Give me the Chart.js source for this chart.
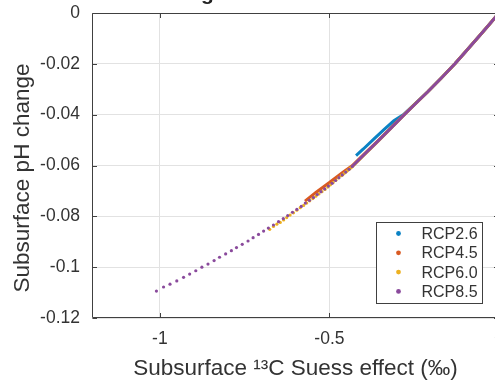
<!DOCTYPE html>
<html>
<head>
<meta charset="utf-8">
<script src="https://cdn.jsdelivr.net/npm/chart.js@4.4.1/dist/chart.umd.min.js"></script>
<style>
  html, body { margin: 0; padding: 0; background: #fff; overflow: hidden; }
  #wrap { width: 505px; height: 382px; }
</style>
</head>
<body>
<div id="wrap"><canvas id="chart" width="505" height="382"></canvas></div>
<script>
// axis ticks
const xTicks = [-1, -0.5, 0];
const xTickLabels = ['-1', '-0.5', '0'];
const yTicks = [0, -0.02, -0.04, -0.06, -0.08, -0.1, -0.12];
const yTickLabels = ['0', '-0.02', '-0.04', '-0.06', '-0.08', '-0.1', '-0.12'];

const scenarios = ['RCP2.6', 'RCP4.5', 'RCP6.0', 'RCP8.5'];
const colors = ['#0a82c4', '#d95a22', '#edb120', '#8a4a9c'];

// RCP2.6 - dense yearly values, drawn as a continuous trace
const rcp26X = [-0.4215, -0.40, -0.37, -0.34, -0.31, -0.28, -0.25, -0.21, -0.17, -0.13, -0.10, -0.06, -0.03, 0];
const rcp26Y = [-0.0561, -0.0535, -0.0497, -0.0460, -0.0424, -0.0398, -0.0360, -0.0310, -0.0256, -0.0200, -0.0154, -0.0093, -0.0047, 0];

// RCP4.5
const rcp45X = [-0.572, -0.54, -0.50, -0.46, -0.433, -0.40, -0.36, -0.32, -0.28, -0.25, -0.21, -0.17, -0.13, -0.10, -0.06, -0.03, 0];
const rcp45Y = [-0.0740, -0.0706, -0.0667, -0.0626, -0.0601, -0.0558, -0.0507, -0.0454, -0.0400, -0.0361, -0.0310, -0.0256, -0.0200, -0.0154, -0.0093, -0.0047, 0];

// RCP6.0 - sparse years as dots, then the dense part
const rcp60DotX = [-0.676, -0.665, -0.655, -0.645, -0.635, -0.626, -0.616, -0.606, -0.596, -0.586, -0.576, -0.567, -0.558, -0.549, -0.540, -0.531, -0.522, -0.513, -0.505, -0.497, -0.489, -0.481, -0.473, -0.465];
const rcp60DotY = [-0.0851, -0.0840, -0.0831, -0.0824, -0.0814, -0.0805, -0.0795, -0.0786, -0.0776, -0.0766, -0.0757, -0.0748, -0.0739, -0.0730, -0.0721, -0.0712, -0.0703, -0.0694, -0.0685, -0.0676, -0.0667, -0.0658, -0.0649, -0.0640];
const rcp60X = [-0.465, -0.433, -0.40, -0.36, -0.32, -0.28, -0.25, -0.21, -0.17, -0.13, -0.10, -0.06, -0.03, 0];
const rcp60Y = [-0.0641, -0.0605, -0.0561, -0.0509, -0.0455, -0.0401, -0.0362, -0.0310, -0.0256, -0.0200, -0.0154, -0.0093, -0.0047, 0];

// RCP8.5
const rcp85DotX = [-1.010, -0.989, -0.970, -0.950, -0.930, -0.912, -0.894, -0.876, -0.858, -0.840, -0.824, -0.806, -0.789, -0.774, -0.757, -0.740, -0.725, -0.709, -0.694, -0.680, -0.665, -0.650, -0.636, -0.623, -0.609, -0.596, -0.583, -0.571, -0.559, -0.547, -0.536, -0.525, -0.514, -0.503, -0.492, -0.482, -0.472, -0.462, -0.452, -0.442, -0.433];
const rcp85DotY = [-0.1094, -0.1078, -0.1067, -0.1054, -0.1040, -0.1027, -0.1014, -0.1000, -0.0988, -0.0974, -0.0961, -0.0948, -0.0935, -0.0923, -0.0910, -0.0897, -0.0884, -0.0871, -0.0858, -0.0846, -0.0834, -0.0821, -0.0809, -0.0797, -0.0784, -0.0773, -0.0761, -0.0748, -0.0737, -0.0726, -0.0714, -0.0703, -0.0692, -0.0681, -0.0670, -0.0659, -0.0648, -0.0637, -0.0626, -0.0615, -0.0604];
const rcp85X = [-0.433, -0.40, -0.36, -0.32, -0.28, -0.25, -0.21, -0.17, -0.13, -0.10, -0.06, -0.03, 0];
const rcp85Y = [-0.0604, -0.0560, -0.0508, -0.0455, -0.0401, -0.0362, -0.0310, -0.0256, -0.0200, -0.0154, -0.0093, -0.0047, 0];

const FONT = "'Liberation Sans', Arial, Helvetica, sans-serif";
const TEXT = '#333333';

function pts(xs, ys) {
  return xs.map((v, i) => ({ x: v, y: ys[i] }));
}

function dots(idx, xs, ys, order) {
  return {
    label: scenarios[idx],
    data: pts(xs, ys),
    showLine: false,
    pointRadius: 1.6,
    pointBorderWidth: 0,
    pointBackgroundColor: colors[idx],
    order: order
  };
}

function trace(idx, xs, ys, order) {
  return {
    label: scenarios[idx],
    data: pts(xs, ys),
    showLine: true,
    borderColor: colors[idx],
    borderWidth: 3,
    pointRadius: 0,
    order: order
  };
}

// lower order is painted last, so RCP8.5 ends up on top
const datasets = [
  trace(0, rcp26X, rcp26Y, 7),
  trace(1, rcp45X, rcp45Y, 6),
  trace(2, rcp60X, rcp60Y, 5),
  dots(2, rcp60DotX, rcp60DotY, 4),
  trace(3, rcp85X, rcp85Y, 1),
  dots(3, rcp85DotX, rcp85DotY, 0)
];

// no extra room for the end tick labels, the axes box is fixed
function noLabelPadding(s) {
  s.paddingLeft = 0;
  s.paddingRight = 0;
  s.paddingTop = 0;
  s.paddingBottom = 0;
}

// box around the axes with inward tick marks
const axesBox = {
  id: 'axesBox',
  afterDatasetsDraw(chart) {
    const { ctx, chartArea: a, scales } = chart;
    const L = Math.round(a.left) + 0.5, R = Math.round(a.right) - 0.5;
    const T = Math.round(a.top) + 0.5, B = Math.round(a.bottom) - 0.5;
    ctx.save();
    ctx.strokeStyle = '#404040';
    ctx.lineWidth = 1;
    ctx.beginPath();
    ctx.rect(L, T, R - L, B - T);
    const tl = 4.5;
    xTicks.forEach(v => {
      const px = Math.round(scales.x.getPixelForValue(v)) + 0.5;
      ctx.moveTo(px, B); ctx.lineTo(px, B - tl);
      ctx.moveTo(px, T); ctx.lineTo(px, T + tl);
    });
    yTicks.forEach(v => {
      const py = Math.round(scales.y.getPixelForValue(v)) + 0.5;
      ctx.moveTo(L, py); ctx.lineTo(L + tl, py);
      ctx.moveTo(R, py); ctx.lineTo(R - tl, py);
    });
    ctx.stroke();
    ctx.restore();
  }
};

// boxed legend in the lower right of the axes
const boxLegend = {
  id: 'boxLegend',
  afterDraw(chart) {
    const { ctx, chartArea: a } = chart;
    const w = 106, h = 81;
    const x0 = Math.round(a.right - 17 - w) + 0.5;
    const y0 = Math.round(a.bottom - 15 - h) + 0.5;
    ctx.save();
    ctx.fillStyle = '#ffffff';
    ctx.strokeStyle = '#404040';
    ctx.lineWidth = 1;
    ctx.fillRect(x0, y0, w, h);
    ctx.strokeRect(x0, y0, w, h);
    ctx.font = '16px ' + FONT;
    ctx.textBaseline = 'middle';
    ctx.textAlign = 'left';
    scenarios.forEach((name, i) => {
      const cy = y0 + 11 + i * 19.3;
      ctx.fillStyle = colors[i];
      ctx.beginPath();
      ctx.arc(x0 + 22, cy, 2.4, 0, Math.PI * 2);
      ctx.fill();
      ctx.fillStyle = TEXT;
      ctx.fillText(name, x0 + 45, cy + 1);
    });
    ctx.restore();
  }
};

// figure title (mostly above the page) and the rotated y label
const figureText = {
  id: 'figureText',
  afterDraw(chart) {
    const { ctx } = chart;
    ctx.save();
    ctx.font = 'bold 21px ' + FONT;
    ctx.fillStyle = '#222222';
    ctx.textAlign = 'center';
    ctx.textBaseline = 'alphabetic';
    ctx.fillText('Subsurface changes from 1850 to 2100', 226, 0);

    ctx.font = '22.5px ' + FONT;
    ctx.fillStyle = TEXT;
    ctx.textBaseline = 'middle';
    ctx.translate(23, 178);
    ctx.rotate(-Math.PI / 2);
    ctx.fillText('Subsurface pH change', 0, 0);
    ctx.restore();
  }
};

new Chart(document.getElementById('chart'), {
  type: 'scatter',
  data: { datasets: datasets },
  plugins: [axesBox, boxLegend, figureText],
  options: {
    responsive: false,
    animation: false,
    devicePixelRatio: 1,
    layout: { padding: { top: 13, right: 6, left: 0, bottom: 0 } },
    plugins: {
      legend: { display: false },
      tooltip: { enabled: false }
    },
    scales: {
      x: {
        type: 'linear',
        min: -1.2,
        max: 0,
        afterBuildTicks: s => { s.ticks = xTicks.map(v => ({ value: v })); },
        afterFit: s => { s.height = 64; noLabelPadding(s); },
        ticks: {
          padding: 11,
          maxRotation: 0,
          color: TEXT,
          font: { family: FONT, size: 17.5 },
          callback: (v, i) => xTickLabels[i]
        },
        grid: { color: '#e2e2e2', lineWidth: 1, drawTicks: false },
        border: { display: false },
        title: {
          display: true,
          text: 'Subsurface \u00B9\u00B3C Suess effect (\u2030)',
          color: TEXT,
          font: { family: FONT, size: 22.5 },
          padding: { top: 0, bottom: 0 }
        }
      },
      y: {
        type: 'linear',
        min: -0.12,
        max: 0,
        afterBuildTicks: s => { s.ticks = yTicks.map(v => ({ value: v })); },
        afterFit: s => { s.width = 92; noLabelPadding(s); },
        ticks: {
          padding: 12,
          color: TEXT,
          font: { family: FONT, size: 17.5 },
          callback: (v, i) => yTickLabels[i]
        },
        grid: { color: '#e2e2e2', lineWidth: 1, drawTicks: false },
        border: { display: false },
        title: { display: false }
      }
    }
  }
});
</script>
</body>
</html>
